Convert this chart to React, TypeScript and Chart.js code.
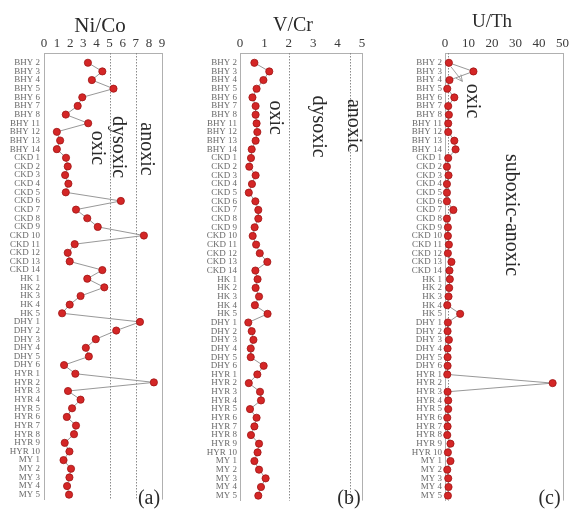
import React, { useEffect, useRef } from "react";
import { Chart, registerables } from "chart.js";
Chart.register(...registerables);

const categories = [
  "BHY 2", "BHY 3", "BHY 4", "BHY 5", "BHY 6", "BHY 7", "BHY 8", "BHY 11", "BHY 12", "BHY 13", "BHY 14",
  "CKD 1", "CKD 2", "CKD 3", "CKD 4", "CKD 5", "CKD 6", "CKD 7", "CKD 8", "CKD 9", "CKD 10", "CKD 11", "CKD 12", "CKD 13", "CKD 14",
  "HK 1", "HK 2", "HK 3", "HK 4", "HK 5",
  "DHY 1", "DHY 2", "DHY 3", "DHY 4", "DHY 5", "DHY 6",
  "HYR 1", "HYR 2", "HYR 3", "HYR 4", "HYR 5", "HYR 6", "HYR 7", "HYR 8", "HYR 9", "HYR 10",
  "MY 1", "MY 2", "MY 3", "MY 4", "MY 5",
];

const niCo = [
  3.35, 4.45, 3.65, 5.3, 2.92, 2.57, 1.66, 3.37, 0.98, 1.23, 0.98,
  1.68, 1.81, 1.61, 1.86, 1.66, 5.86, 2.44, 3.3, 4.1, 7.62, 2.34, 1.81, 1.96, 4.45,
  3.3, 4.6, 2.79, 1.96, 1.38,
  7.32, 5.51, 3.95, 3.19, 3.42, 1.53,
  2.39, 8.38, 1.83, 2.79, 2.14, 1.74, 2.44, 2.29, 1.58, 1.94,
  1.49, 2.06, 1.94, 1.76, 1.91,
];

const vCr = [
  0.59, 1.2, 0.96, 0.68, 0.51, 0.64, 0.64, 0.68, 0.71, 0.64, 0.48,
  0.45, 0.38, 0.64, 0.49, 0.36, 0.63, 0.75, 0.75, 0.6, 0.52, 0.66, 0.81, 1.12, 0.63,
  0.72, 0.64, 0.78, 0.61, 1.13,
  0.34, 0.48, 0.55, 0.44, 0.44, 0.97,
  0.71, 0.36, 0.82, 0.86, 0.41, 0.68, 0.59, 0.45, 0.78, 0.72,
  0.59, 0.78, 1.05, 0.86, 0.75,
];

const uTh = [
  1.65, 12.1, 1.9, 0.96, 3.97, 1.37, 1.65, 1.37, 1.37, 3.97, 4.5,
  1.37, 0.82, 1.5, 0.82, 0.82, 0.82, 3.57, 0.82, 1.23, 1.23, 1.65, 1.23, 2.74, 1.9,
  2.06, 1.78, 1.5, 0.96, 6.45,
  1.23, 1.1, 1.65, 1.1, 1.1, 1.1,
  0.96, 45.8, 1.1, 1.37, 1.37, 0.96, 1.1, 0.96, 2.33, 1.23,
  2.33, 0.96, 1.37, 1.5, 1.23,
];

const niCoTicks = [0, 1, 2, 3, 4, 5, 6, 7, 8, 9];
const vCrTicks = [0, 1, 2, 3, 4, 5];
const uThTicks = [0, 10, 20, 30, 40, 50];

const niCoThresholds = [5, 7];
const vCrThresholds = [2, 4.5];
const uThThresholds = [1.25];

const SERIF = '"Liberation Serif", "Times New Roman", Times, serif';
const H = 509;

type Label = { text: string; x: number; y: number };
type Panel = {
  left: number;
  width: number;
  plotLeft: number;
  plotRight: number;
  xMax: number;
  ticks: number[];
  title: string;
  titleX: number;
  titleY: number;
  titleSize: number;
  values: number[];
  thresholds: number[];
  zones: Label[];
  letter: string;
  tickPad: number;
  arrow?: [number, number, number, number];
};

const panels: Panel[] = [
  {
    left: 0, width: 190, plotLeft: 44, plotRight: 162, xMax: 9, ticks: niCoTicks,
    title: "Ni/Co", titleX: 100, titleY: 26, titleSize: 21, values: niCo, thresholds: niCoThresholds,
    zones: [
      { text: "oxic", x: 4.04, y: 9.86 },
      { text: "dysoxic", x: 5.64, y: 9.75 },
      { text: "anoxic", x: 7.78, y: 9.98 },
    ],
    letter: "(a)", tickPad: 4,
  },
  {
    left: 190, width: 190, plotLeft: 50, plotRight: 172, xMax: 5, ticks: vCrTicks,
    title: "V/Cr", titleX: 103, titleY: 26, titleSize: 20, values: vCr, thresholds: vCrThresholds,
    zones: [
      { text: "oxic", x: 1.43, y: 6.35 },
      { text: "dysoxic", x: 3.2, y: 7.37 },
      { text: "anoxic", x: 4.63, y: 7.26 },
    ],
    letter: "(b)", tickPad: 3,
  },
  {
    left: 380, width: 191, plotLeft: 65, plotRight: 186, xMax: 50, ticks: uThTicks,
    title: "U/Th", titleX: 112, titleY: 22, titleSize: 19, values: uTh, thresholds: uThThresholds,
    zones: [
      { text: "oxic", x: 11.6, y: 4.42 },
      { text: "suboxic-anoxic", x: 28.1, y: 17.6 },
    ],
    letter: "(c)", tickPad: 3,
    arrow: [2.5, 0.45, 7.4, 2.15],
  },
];

function PanelChart({ p }: { p: Panel }) {
  const ref = useRef<HTMLCanvasElement | null>(null);
  useEffect(() => {
    if (!ref.current) return;
    const decor = {
      id: "decor",
      beforeDatasetsDraw(chart: any) {
        const { ctx, chartArea, scales } = chart;
        const xs = scales.x;
        ctx.save();
        // right border
        ctx.strokeStyle = "#b0b0b0";
        ctx.lineWidth = 1;
        ctx.beginPath();
        ctx.moveTo(Math.round(chartArea.right) + 0.5, chartArea.top);
        ctx.lineTo(Math.round(chartArea.right) + 0.5, chartArea.bottom);
        ctx.stroke();
        // thresholds
        ctx.setLineDash([1.5, 1.5]);
        ctx.strokeStyle = "#8a8a8a";
        for (const t of p.thresholds) {
          const px = Math.round(xs.getPixelForValue(t)) + 0.5;
          ctx.beginPath();
          ctx.moveTo(px, chartArea.top);
          ctx.lineTo(px, chartArea.bottom);
          ctx.stroke();
        }
        ctx.restore();
      },
      afterDraw(chart: any) {
        const { ctx, chartArea, scales } = chart;
        const xs = scales.x;
        const ys = scales.y;
        ctx.save();
        ctx.fillStyle = "#2a2a2a";
        ctx.textAlign = "center";
        ctx.textBaseline = "middle";
        ctx.font = `${p.titleSize}px ${SERIF}`;
        ctx.fillText(p.title, p.titleX, p.titleY);
        ctx.font = `20px ${SERIF}`;
        for (const z of p.zones) {
          ctx.save();
          ctx.translate(xs.getPixelForValue(z.x), ys.getPixelForValue(z.y));
          ctx.rotate(Math.PI / 2);
          ctx.fillText(z.text, 0, 0);
          ctx.restore();
        }
        ctx.font = `20px ${SERIF}`;
        ctx.fillText(p.letter, chartArea.right - 13, 499);
        if (p.arrow) {
          const [x1, y1, x2, y2] = p.arrow;
          const ax = xs.getPixelForValue(x1), ay = ys.getPixelForValue(y1);
          const bx = xs.getPixelForValue(x2), by = ys.getPixelForValue(y2);
          ctx.strokeStyle = "#8a8a8a";
          ctx.lineWidth = 0.8;
          ctx.beginPath();
          ctx.moveTo(ax, ay);
          ctx.lineTo(bx, by);
          const ang = Math.atan2(by - ay, bx - ax);
          const L = 7;
          ctx.moveTo(bx, by);
          ctx.lineTo(bx - L * Math.cos(ang - 0.45), by - L * Math.sin(ang - 0.45));
          ctx.moveTo(bx, by);
          ctx.lineTo(bx - L * Math.cos(ang + 0.45), by - L * Math.sin(ang + 0.45));
          ctx.stroke();
        }
        ctx.restore();
      },
    };
    const chart = new Chart(ref.current, {
      type: "scatter",
      data: {
        datasets: [
          {
            data: p.values.map((v, i) => ({ x: v, y: i })),
            showLine: true,
            borderColor: "#8c8c8c",
            borderWidth: 0.9,
            pointRadius: 3.6,
            pointBackgroundColor: "#d42626",
            pointBorderColor: "#a01414",
            pointBorderWidth: 0.8,
            clip: false as any,
          },
        ],
      },
      options: {
        responsive: false,
        animation: false,
        devicePixelRatio: 1,
        layout: {
          autoPadding: false,
          padding: { left: 0, top: 0, right: p.width - p.plotRight, bottom: 0 },
        } as any,
        plugins: { legend: { display: false }, tooltip: { enabled: false }, title: { display: false } },
        scales: {
          x: {
            type: "linear",
            position: "top",
            min: 0,
            max: p.xMax,
            afterBuildTicks: (s: any) => {
              s.ticks = p.ticks.map((v) => ({ value: v }));
            },
            afterFit: (s: any) => {
              s.height = 53;
            },
            ticks: {
              autoSkip: false,
              maxRotation: 0,
              padding: 2,
              color: "#3a3a3a",
              font: { family: SERIF, size: 13 },
            },
            grid: { display: false, drawTicks: false },
            border: { display: true, color: "#b0b0b0", width: 1 },
          },
          y: {
            type: "linear",
            reverse: true,
            min: -1.13,
            max: 50.57,
            afterBuildTicks: (s: any) => {
              s.ticks = categories.map((_, i) => ({ value: i }));
            },
            afterFit: (s: any) => {
              s.width = p.plotLeft;
            },
            ticks: {
              autoSkip: false,
              padding: p.tickPad,
              color: "#6a6a6a",
              font: { family: SERIF, size: 9 },
              callback: (v: any) => categories[v as number] ?? "",
            },
            grid: { display: false, drawTicks: false },
            border: { display: true, color: "#b0b0b0", width: 1 },
          },
        },
      },
      plugins: [decor],
    });
    return () => chart.destroy();
  }, [p]);
  return (
    <canvas
      ref={ref}
      width={p.width}
      height={H}
      style={{ position: "absolute", left: p.left, top: 0, width: p.width, height: H }}
    />
  );
}

export default function App() {
  return (
    <div
      style={{
        position: "fixed",
        left: 0,
        top: 0,
        width: 571,
        height: H,
        background: "#ffffff",
        overflow: "hidden",
      }}
    >
      {panels.map((p) => (
        <PanelChart key={p.letter} p={p} />
      ))}
    </div>
  );
}
